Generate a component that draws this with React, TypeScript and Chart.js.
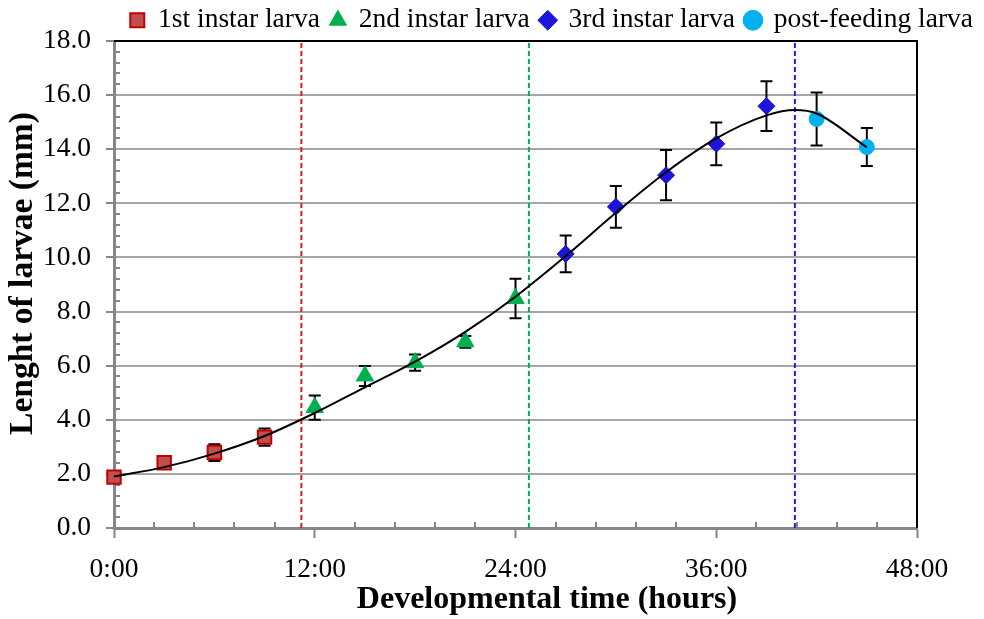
import React, { useEffect, useRef } from "react";
import { Chart, registerables } from "chart.js";
Chart.register(...registerables);

const seriesLabels = ["1st instar larva", "2nd instar larva", "3rd instar larva", "post-feeding larva"];
const xTitle = "Developmental time (hours)";
const yTitle = "Lenght of larvae (mm)";

const firstHours = [0, 3, 6, 9];
const firstLength = [1.88, 2.41, 2.79, 3.36];
const firstError = [0.14, 0.12, 0.31, 0.32];

const secondHours = [12, 15, 18, 21, 24];
const secondLength = [4.45, 5.62, 6.11, 6.88, 8.48];
const secondError = [0.45, 0.37, 0.3, 0.22, 0.73];

const thirdHours = [27, 30, 33, 36, 39];
const thirdLength = [10.13, 11.87, 13.04, 14.2, 15.59];
const thirdError = [0.68, 0.77, 0.93, 0.79, 0.92];

const postHours = [42, 45];
const postLength = [15.12, 14.08];
const postError = [0.98, 0.7];

const trendHours = [0, 3, 6, 9, 12, 15, 18, 21, 24, 27, 30, 33, 36, 39, 40.7, 42, 45];
const trendLength = [1.9, 2.25, 2.75, 3.4, 4.25, 5.2, 6.15, 7.25, 8.55, 10.05, 11.65, 13.15, 14.4, 15.25, 15.45, 15.32, 14.07];

const boundaryHours = [11.2, 24.8, 40.7];
const boundaryColors = ["#d42020", "#00b050", "#2020e0"];

const yMin = 0;
const yMax = 18;
const yStep = 2;
const yMinorStep = 0.4;
const xMin = 0;
const xMax = 48;
const xStep = 12;
const xMinorStep = 2.4;

const FONT = "'Liberation Serif', 'Times New Roman', serif";
const AXIS_GRAY = "#868686";
const TICK_SIZE = 27.5;
const X_TITLE_SIZE = 32;
const Y_TITLE_SIZE = 33.5;
const LEGEND_PAD = 11;

const pts = (xs: number[], ys: number[]) => xs.map((x, i) => ({ x, y: ys[i] }));

const decorPlugin = {
  id: "decor",
  afterLayout(chart: any) {
    const lg = chart.legend;
    if (lg) {
      lg.top += 3;
      lg.bottom += 3;
    }
  },
  beforeDatasetsDraw(chart: any) {
    const { ctx, chartArea } = chart;
    const { left, right, top, bottom } = chartArea;
    const xs = chart.scales.x;
    const ys = chart.scales.y;
    ctx.save();
    // frame (top and right)
    ctx.strokeStyle = "#000";
    ctx.lineWidth = 2;
    ctx.beginPath();
    ctx.moveTo(left, top);
    ctx.lineTo(right, top);
    ctx.lineTo(right, bottom);
    ctx.stroke();
    // minor ticks
    ctx.strokeStyle = AXIS_GRAY;
    ctx.lineWidth = 2;
    ctx.beginPath();
    for (let k = 1; k * yMinorStep < yMax - 1e-9; k++) {
      const v = k * yMinorStep;
      if (Math.abs(v / yStep - Math.round(v / yStep)) < 1e-6) continue;
      const py = Math.round(ys.getPixelForValue(v));
      ctx.moveTo(left, py);
      ctx.lineTo(left + 6, py);
    }
    for (let k = 1; k * xMinorStep < xMax - 1e-9; k++) {
      const v = k * xMinorStep;
      if (Math.abs(v / xStep - Math.round(v / xStep)) < 1e-6) continue;
      const px = Math.round(xs.getPixelForValue(v));
      ctx.moveTo(px, bottom);
      ctx.lineTo(px, bottom - 6);
    }
    ctx.stroke();
    // error bars
    ctx.strokeStyle = "#000";
    ctx.lineWidth = 2;
    chart.data.datasets.forEach((ds: any) => {
      if (!ds.errorBars) return;
      ds.data.forEach((p: any, i: number) => {
        const e = ds.errorBars[i];
        const px = xs.getPixelForValue(p.x);
        const y1 = ys.getPixelForValue(p.y + e);
        const y2 = ys.getPixelForValue(p.y - e);
        ctx.beginPath();
        ctx.moveTo(px, y1);
        ctx.lineTo(px, y2);
        ctx.moveTo(px - 6, y1);
        ctx.lineTo(px + 6, y1);
        ctx.moveTo(px - 6, y2);
        ctx.lineTo(px + 6, y2);
        ctx.stroke();
      });
    });
    ctx.restore();
  },
  afterDraw(chart: any) {
    const { ctx } = chart;
    ctx.save();
    ctx.fillStyle = "#000";
    ctx.textAlign = "center";
    ctx.textBaseline = "alphabetic";
    ctx.font = `bold ${X_TITLE_SIZE}px ${FONT}`;
    ctx.fillText(xTitle, 547, 608);
    ctx.font = `bold ${Y_TITLE_SIZE}px ${FONT}`;
    ctx.translate(32, 273.5);
    ctx.rotate(-Math.PI / 2);
    ctx.fillText(yTitle, 0, 0);
    ctx.restore();
  },
};

export default function App() {
  const ref = useRef<HTMLCanvasElement | null>(null);
  useEffect(() => {
    document.body.style.margin = "0";
    const canvas = ref.current;
    if (!canvas) return;
    const markerDatasets = [
      {
        label: seriesLabels[0],
        data: pts(firstHours, firstLength),
        errorBars: firstError,
        pointStyle: "rect",
        pointRadius: 9.5,
        pointHoverRadius: 9.5,
        backgroundColor: "#c0504d",
        borderColor: "#c00000",
        pointBorderWidth: 2,
        borderWidth: 2,
        showLine: false,
        clip: false,
        order: 1,
      },
      {
        label: seriesLabels[1],
        data: pts(secondHours, secondLength),
        errorBars: secondError,
        pointStyle: "triangle",
        pointRadius: 10,
        pointHoverRadius: 10,
        backgroundColor: "#00b050",
        borderColor: "#00b050",
        pointBorderWidth: 1,
        borderWidth: 1,
        showLine: false,
        clip: false,
        order: 1,
      },
      {
        label: seriesLabels[2],
        data: pts(thirdHours, thirdLength),
        errorBars: thirdError,
        pointStyle: "rectRot",
        pointRadius: 8.5,
        pointHoverRadius: 8.5,
        backgroundColor: "#1c14d8",
        borderColor: "#1c14d8",
        pointBorderWidth: 1,
        borderWidth: 1,
        showLine: false,
        clip: false,
        order: 1,
      },
      {
        label: seriesLabels[3],
        data: pts(postHours, postLength),
        errorBars: postError,
        pointStyle: "circle",
        pointRadius: 7.5,
        pointHoverRadius: 7.5,
        backgroundColor: "#00b0f0",
        borderColor: "#00b0f0",
        pointBorderWidth: 1,
        borderWidth: 1,
        showLine: false,
        clip: false,
        order: 1,
      },
    ];
    const trendDataset = {
      label: "trend",
      data: pts(trendHours, trendLength),
      showLine: true,
      borderColor: "#000",
      backgroundColor: "#000",
      borderWidth: 2,
      pointRadius: 0,
      cubicInterpolationMode: "monotone",
      clip: false,
      order: 0,
    };
    const boundaryDatasets = boundaryHours.map((h, i) => ({
      label: "boundary" + i,
      data: [
        { x: h, y: yMin },
        { x: h, y: yMax },
      ],
      showLine: true,
      borderColor: boundaryColors[i],
      backgroundColor: boundaryColors[i],
      borderWidth: 2,
      borderDash: [5, 3],
      pointRadius: 0,
      order: 2,
    }));

    const chart = new Chart(canvas, {
      type: "scatter",
      data: { datasets: [...markerDatasets, trendDataset, ...boundaryDatasets] as any },
      options: {
        animation: false,
        responsive: true,
        maintainAspectRatio: false,
        layout: { padding: { left: 0, right: 0, top: -7.5, bottom: 0 } },
        plugins: {
          tooltip: { enabled: false },
          legend: {
            position: "top",
            align: "end",
            labels: {
              color: "#000",
              font: { family: FONT, size: TICK_SIZE },
              usePointStyle: true,
              boxWidth: 14,
              boxHeight: 14,
              padding: LEGEND_PAD,
              filter: (item: any) => item.datasetIndex < 4,
            },
          },
        },
        scales: {
          x: {
            type: "linear",
            position: "bottom",
            min: xMin,
            max: xMax,
            afterFit: (s: any) => {
              s.height = 91;
            },
            ticks: {
              stepSize: xStep,
              color: "#000",
              font: { family: FONT, size: TICK_SIZE },
              padding: 15,
              maxRotation: 0,
              callback: (v: any) => `${v}:00`,
            },
            grid: {
              drawOnChartArea: false,
              drawTicks: true,
              tickLength: 10,
              tickColor: AXIS_GRAY,
              tickWidth: 2,
            },
            border: { color: AXIS_GRAY, width: 3 },
          },
          y: {
            type: "linear",
            position: "left",
            min: yMin,
            max: yMax,
            afterFit: (s: any) => {
              s.width = 114;
            },
            ticks: {
              stepSize: yStep,
              color: "#000",
              font: { family: FONT, size: TICK_SIZE },
              padding: 15,
              callback: (v: any) => Number(v).toFixed(1),
            },
            grid: {
              color: "#a6a6a6",
              lineWidth: 2,
              drawTicks: true,
              tickLength: 8,
              tickColor: AXIS_GRAY,
              tickWidth: 2,
            },
            border: { color: AXIS_GRAY, width: 3 },
          },
          y2: {
            type: "linear",
            position: "right",
            display: true,
            min: yMin,
            max: yMax,
            afterFit: (s: any) => {
              s.width = 67;
            },
            ticks: { display: false },
            grid: { display: false, drawTicks: false },
            border: { display: false },
          },
        },
      },
      plugins: [decorPlugin],
    } as any);
    return () => chart.destroy();
  }, []);
  return (
    <div style={{ position: "absolute", left: 0, top: 0, width: 984, height: 619 }}>
      <canvas ref={ref} />
    </div>
  );
}
